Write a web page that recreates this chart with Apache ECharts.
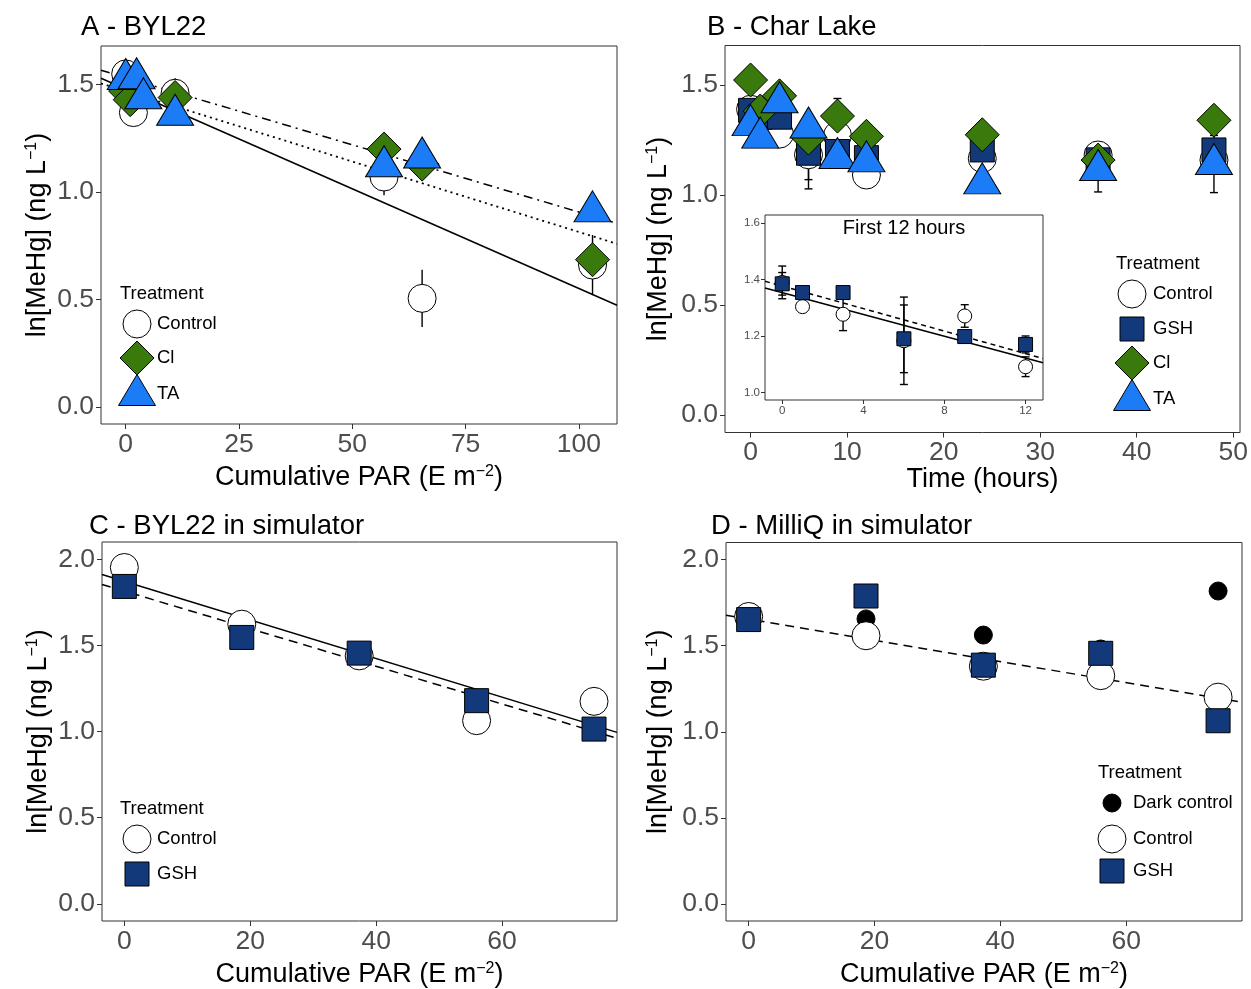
<!DOCTYPE html>
<html>
<head>
<meta charset="utf-8">
<script src="https://cdn.jsdelivr.net/npm/echarts@6/dist/echarts.min.js"></script>
<style>
  html, body { margin: 0; padding: 0; background: #fff; }
  #chart { width: 1251px; height: 989px; }
</style>
</head>
<body>
<div id="chart"></div>
<script>
// ---- A - BYL22 ----
var aCtrlX = [0, 1.7, 10.9, 57, 65.4, 103];
var aCtrlY = [1.55, 1.37, 1.46, 1.07, 0.505, 0.66];
var aCtrlErr = [0, 0, 0.07, 0.085, 0.133, 0.14];
var aClX = [0, 1.0, 10.9, 57, 65.4, 103];
var aClY = [1.47, 1.43, 1.44, 1.2, 1.13, 0.685];
var aTaX = [0, 2.4, 3.9, 10.9, 57, 65.4, 103];
var aTaY = [1.526, 1.53, 1.437, 1.36, 1.12, 1.161, 0.91];
var aFitInt = [1.479, 1.47, 1.533];      // Control, Cl, TA
var aFitSlope = [-0.00928, -0.00656, -0.00626];

// ---- B - Char Lake ----
var bTime = [0, 1, 3, 6, 9, 12, 24, 36, 48];
var bCtrl = [1.39, 1.304, 1.277, 1.183, 1.271, 1.091, 1.166, 1.182, 1.159];
var bCtrlErr = [0.058, 0, 0.058, 0.155, 0.04, 0.035, 0, 0, 0];
var bGsh = [1.385, 1.354, 1.354, 1.19, 1.198, 1.17, 1.205, 1.16, 1.205];
var bGshErr = [0.04, 0, 0, 0.12, 0, 0.03, 0, 0, 0];
var bCl = [1.523, 1.382, 1.451, 1.259, 1.359, 1.267, 1.274, 1.159, 1.34];
var bClErr = [0, 0, 0, 0, 0.08, 0, 0, 0, 0];
var bTa = [1.318, 1.261, 1.422, 1.307, 1.168, 1.153, 1.053, 1.114, 1.141];
var bTaErr = [0, 0, 0, 0, 0, 0, 0, 0.1, 0.13];
var insetN = 6; // first 12 hours
var insetFitInt = [1.354, 1.377];        // Control, GSH
var insetFitSlope = [-0.01937, -0.01997];

// ---- C - BYL22 in simulator ----
var cPar = [0, 18.65, 37.3, 55.95, 74.6];
var cCtrl = [1.952, 1.623, 1.439, 1.063, 1.175];
var cGsh = [1.842, 1.546, 1.455, 1.179, 1.014];
var cFitInt = [1.872, 1.815];
var cFitSlope = [-0.01121, -0.01092];

// ---- D - MilliQ in simulator ----
var dPar = [0, 18.65, 37.3, 55.95, 74.6];
var dDark = [1.66, 1.656, 1.562, 1.481, 1.818];
var dCtrl = [1.67, 1.558, 1.381, 1.326, 1.201];
var dGsh = [1.652, 1.789, 1.387, 1.456, 1.064];
var dFitInt = [1.655];
var dFitSlope = [-0.00617];

// tick labels
var ticksA = [0, 25, 50, 75, 100];
var ticksB = [0, 10, 20, 30, 40, 50];
var ticksCD = [0, 20, 40, 60];
var ticksY = [0, 0.5, 1, 1.5];
var ticksY2 = [0, 0.5, 1, 1.5, 2];
var ticksInX = [0, 4, 8, 12];
var ticksInY = [1.0, 1.2, 1.4, 1.6];

var FONT = "'Liberation Sans', Arial, sans-serif";
var GREEN = "#3a7a0c";
var BLUE = "#1c7cf7";
var NAVY = "#12397a";

// axis ranges (ggplot expanded)
var rA = { x: [-5.45, 108.4], y: [-0.08, 1.68] };
var rB = { x: [-2.65, 50.7], y: [-0.08, 1.68] };
var rIn = { x: [-0.85, 12.86], y: [0.973, 1.629] };
var rC = { x: [-3.55, 78.25], y: [-0.1, 2.1] };
var rD = { x: [-3.6, 78.4], y: [-0.1, 2.1] };

function zip(xs, ys, es) {
  return xs.map(function (x, i) {
    return es ? [x, ys[i], es[i]] : [x, ys[i]];
  });
}

var supRich = { sup: { fontSize: 16, verticalAlign: "top", color: "#000", fontFamily: FONT } };

function xAx(grid, r, ticks, name, gap, fs) {
  return {
    type: "value", gridIndex: grid, min: r[0], max: r[1],
    name: name, nameLocation: "middle", nameGap: gap, nameMoveOverlap: false,
    nameTextStyle: { fontSize: 27, color: "#000", fontFamily: FONT, rich: supRich },
    axisLine: { show: false, onZero: false },
    splitLine: { show: false },
    axisTick: { show: true, customValues: ticks, length: fs > 20 ? 5 : 4, lineStyle: { color: "#333" } },
    axisLabel: { customValues: ticks, fontSize: fs, color: "#4d4d4d", fontFamily: FONT, margin: fs > 20 ? 7 : 5,
      formatter: function (v) { return String(v); } }
  };
}

function yAx(grid, r, ticks, name, gap, fs) {
  return {
    type: "value", gridIndex: grid, min: r[0], max: r[1],
    name: name, nameLocation: "middle", nameGap: gap, nameMoveOverlap: false,
    nameTextStyle: { fontSize: 27, color: "#000", fontFamily: FONT, rich: supRich },
    axisLine: { show: false, onZero: false },
    splitLine: { show: false },
    axisTick: { show: true, customValues: ticks, length: fs > 20 ? 5 : 4, lineStyle: { color: "#333" } },
    axisLabel: { customValues: ticks, fontSize: fs, color: "#4d4d4d", fontFamily: FONT, margin: fs > 20 ? 7 : 5,
      formatter: function (v) { return v.toFixed(1); } }
  };
}

var yName = "ln[MeHg] (ng L{sup|−1})";
var parName = "Cumulative PAR (E m{sup|−2})";

var sty = {
  control: { symbol: "circle", size: 28, color: "#fff" },
  dark: { symbol: "circle", size: 18, color: "#000" },
  gsh: { symbol: "rect", size: 24, color: NAVY },
  cl: { symbol: "diamond", size: [34, 34], color: GREEN },
  ta: { symbol: "triangle", size: [37, 31], color: BLUE, offset: [0, -5] }
};

function pts(name, kind, gi, data, size) {
  var s = sty[kind];
  return {
    name: name, type: "scatter", xAxisIndex: gi, yAxisIndex: gi,
    symbol: s.symbol, symbolSize: size || s.size, symbolOffset: s.offset || [0, 0],
    itemStyle: { color: s.color, borderColor: "#000", borderWidth: 1, opacity: 1 },
    data: data, z: 3, silent: true
  };
}

function errRender(cap) {
  return function (params, api) {
    var x = api.value(0), y = api.value(1), e = api.value(2);
    if (!e) return null;
    var lo = api.coord([x, y - e]);
    var hi = api.coord([x, y + e]);
    var st = { stroke: "#000", lineWidth: 1.4 };
    var kids = [{ type: "line", shape: { x1: lo[0], y1: lo[1], x2: hi[0], y2: hi[1] }, style: st }];
    if (cap) {
      kids.push({ type: "line", shape: { x1: lo[0] - cap, y1: lo[1], x2: lo[0] + cap, y2: lo[1] }, style: st });
      kids.push({ type: "line", shape: { x1: hi[0] - cap, y1: hi[1], x2: hi[0] + cap, y2: hi[1] }, style: st });
    }
    return { type: "group", children: kids };
  };
}

function errs(gi, data, cap) {
  return {
    type: "custom", xAxisIndex: gi, yAxisIndex: gi, renderItem: errRender(cap),
    encode: { x: 0, y: 1 }, data: data, z: 1, silent: true
  };
}

function fit(gi, r, a, b, dash, w) {
  return {
    type: "line", xAxisIndex: gi, yAxisIndex: gi, showSymbol: false, symbol: "none", silent: true,
    lineStyle: { color: "#000", width: w || 1.5, type: dash },
    data: [[r[0], a + b * r[0]], [r[1], a + b * r[1]]], z: 2
  };
}

// legend drawing (ggplot-style, inside panels)
function keyShape(kind, cx, cy) {
  var st = { fill: sty[kind].color, stroke: "#000", lineWidth: 1 };
  if (kind === "control") return { type: "circle", shape: { cx: cx, cy: cy, r: 14 }, style: st };
  if (kind === "dark") return { type: "circle", shape: { cx: cx, cy: cy, r: 9 }, style: st };
  if (kind === "gsh") return { type: "rect", shape: { x: cx - 12, y: cy - 12, width: 24, height: 24 }, style: st };
  if (kind === "cl") return { type: "polygon", shape: { points: [[cx, cy - 17], [cx + 17, cy], [cx, cy + 17], [cx - 17, cy]] }, style: st };
  return { type: "polygon", shape: { points: [[cx, cy - 15.5], [cx + 18.5, cy + 15.5], [cx - 18.5, cy + 15.5]] }, style: st };
}

function legendBox(x, y, items, symX, txtX, steps) {
  var els = [{ type: "text", x: x, y: y, style: { text: "Treatment", fontSize: 18.5, fill: "#000", fontFamily: FONT, verticalAlign: "middle" } }];
  items.forEach(function (it, i) {
    var cy = steps[i];
    els.push(keyShape(it[1], symX, it[1] === "ta" ? cy - 4 : cy));
    els.push({ type: "text", x: txtX, y: cy, style: { text: it[0], fontSize: 18.5, fill: "#000", fontFamily: FONT, verticalAlign: "middle" } });
  });
  return els;
}

var graphics = []
  .concat(legendBox(120, 294, [["Control", "control"], ["Cl", "cl"], ["TA", "ta"]], 137, 157, [324, 358, 394]))
  .concat(legendBox(1116, 264, [["Control", "control"], ["GSH", "gsh"], ["Cl", "cl"], ["TA", "ta"]], 1132, 1153, [294, 329, 363, 399]))
  .concat(legendBox(120, 809, [["Control", "control"], ["GSH", "gsh"]], 137, 157, [839, 874]))
  .concat(legendBox(1098, 773, [["Dark control", "dark"], ["Control", "control"], ["GSH", "gsh"]], 1112, 1133, [803, 839, 871]));
graphics.push({ type: "text", x: 904, y: 228, z: 10, style: { text: "First 12 hours", fontSize: 20, fill: "#000", fontFamily: FONT, align: "center", verticalAlign: "middle" } });

var titleStyle = { fontSize: 27.5, fontWeight: "normal", color: "#000", fontFamily: FONT };

var gridBase = { show: true, borderColor: "#333", borderWidth: 1, backgroundColor: "#fff", containLabel: false };

var option = {
  animation: false,
  backgroundColor: "#fff",
  title: [
    { text: "A - BYL22", left: 81, top: 13, padding: 0, textStyle: titleStyle },
    { text: "B - Char Lake", left: 707, top: 13, padding: 0, textStyle: titleStyle },
    { text: "C - BYL22 in simulator", left: 89, top: 512, padding: 0, textStyle: titleStyle },
    { text: "D - MilliQ in simulator", left: 711, top: 512, padding: 0, textStyle: titleStyle }
  ],
  grid: [
    Object.assign({ left: 101, top: 46, width: 516, height: 378 }, gridBase),
    Object.assign({ left: 725, top: 45.5, width: 517, height: 387 }, gridBase),
    Object.assign({ left: 765, top: 215, width: 278, height: 185, z: 5 }, gridBase),
    Object.assign({ left: 102, top: 542, width: 515, height: 380 }, gridBase),
    Object.assign({ left: 726, top: 542.5, width: 516, height: 380 }, gridBase)
  ],
  xAxis: [
    xAx(0, rA.x, ticksA, parName, 40, 26.5),
    xAx(1, rB.x, ticksB, "Time (hours)", 34, 26.5),
    xAx(2, rIn.x, ticksInX, "", 0, 11.5),
    xAx(3, rC.x, ticksCD, parName, 40, 26.5),
    xAx(4, rD.x, ticksCD, parName, 40, 26.5)
  ],
  yAxis: [
    yAx(0, rA.y, ticksY, yName, 50, 26.5),
    yAx(1, rB.y, ticksY, yName, 53, 26.5),
    yAx(2, rIn.y, ticksInY, "", 0, 11.5),
    yAx(3, rC.y, ticksY2, yName, 50, 26.5),
    yAx(4, rD.y, ticksY2, yName, 54, 26.5)
  ],
  graphic: graphics,
  series: [
    // A
    errs(0, zip(aCtrlX, aCtrlY, aCtrlErr), 0),
    fit(0, rA.x, aFitInt[0], aFitSlope[0], "solid"),
    fit(0, rA.x, aFitInt[1], aFitSlope[1], [2, 4], 1.8),
    fit(0, rA.x, aFitInt[2], aFitSlope[2], [9, 5, 2, 5]),
    pts("Control", "control", 0, zip(aCtrlX, aCtrlY)),
    pts("Cl", "cl", 0, zip(aClX, aClY)),
    pts("TA", "ta", 0, zip(aTaX, aTaY)),
    // B main
    errs(1, zip(bTime, bCtrl, bCtrlErr), 4),
    errs(1, zip(bTime, bGsh, bGshErr), 4),
    errs(1, zip(bTime, bCl, bClErr), 4),
    errs(1, zip(bTime, bTa, bTaErr), 4),
    pts("Control", "control", 1, zip(bTime, bCtrl)),
    pts("GSH", "gsh", 1, zip(bTime, bGsh)),
    pts("Cl", "cl", 1, zip(bTime, bCl)),
    pts("TA", "ta", 1, zip(bTime, bTa)),
    // B inset
    Object.assign(errs(2, zip(bTime.slice(0, insetN), bCtrl.slice(0, insetN), bCtrlErr.slice(0, insetN)), 4), { z: 6 }),
    Object.assign(errs(2, zip(bTime.slice(0, insetN), bGsh.slice(0, insetN), bGshErr.slice(0, insetN)), 4), { z: 6 }),
    Object.assign(fit(2, rIn.x, insetFitInt[0], insetFitSlope[0], "solid"), { z: 7 }),
    Object.assign(fit(2, rIn.x, insetFitInt[1], insetFitSlope[1], [5, 4]), { z: 7 }),
    Object.assign(pts("Control", "control", 2, zip(bTime.slice(0, insetN), bCtrl.slice(0, insetN)), 14), { z: 8 }),
    Object.assign(pts("GSH", "gsh", 2, zip(bTime.slice(0, insetN), bGsh.slice(0, insetN)), 14), { z: 8 }),
    // C
    fit(3, rC.x, cFitInt[0], cFitSlope[0], "solid"),
    fit(3, rC.x, cFitInt[1], cFitSlope[1], [9, 6]),
    pts("Control", "control", 3, zip(cPar, cCtrl)),
    pts("GSH", "gsh", 3, zip(cPar, cGsh)),
    // D
    fit(4, rD.x, dFitInt[0], dFitSlope[0], [9, 6]),
    pts("Dark control", "dark", 4, zip(dPar, dDark)),
    pts("Control", "control", 4, zip(dPar, dCtrl)),
    pts("GSH", "gsh", 4, zip(dPar, dGsh))
  ]
};

var chart = echarts.init(document.getElementById("chart"), null, { renderer: "canvas" });
chart.setOption(option);
</script>
</body>
</html>
